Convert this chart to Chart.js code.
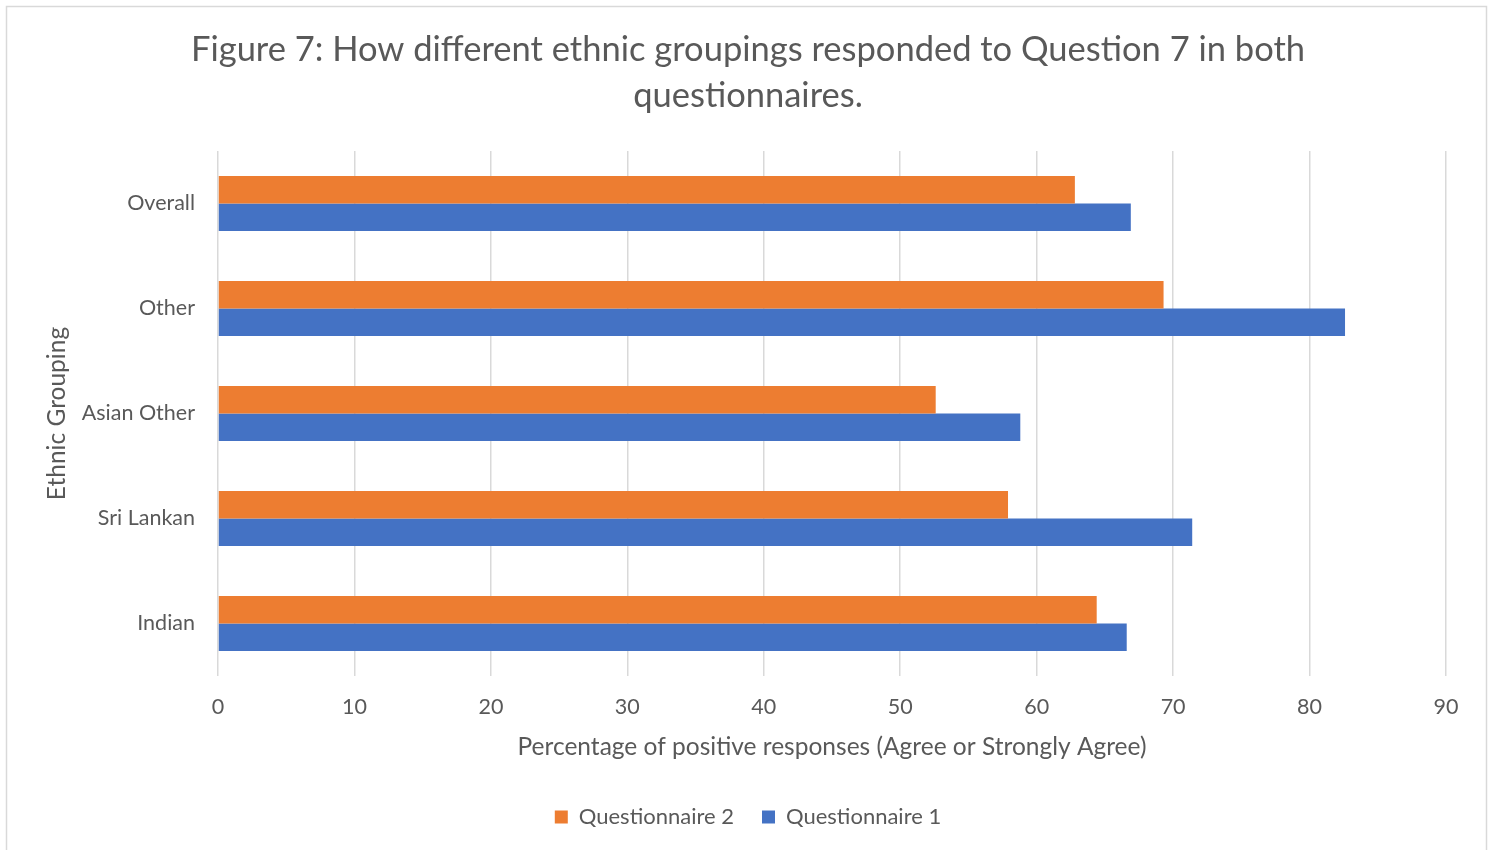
<!DOCTYPE html>
<html>
<head>
<meta charset="utf-8">
<script src="https://cdn.jsdelivr.net/npm/chart.js@4.4.1/dist/chart.umd.min.js"></script>
<style>
  html, body { margin: 0; padding: 0; background: #ffffff; overflow: hidden; }
  #wrap { width: 1496px; height: 850px; position: relative; }
</style>
</head>
<body>
<div id="wrap"><canvas id="chart" width="1496" height="850"></canvas></div>
<script>
// Ethnic groupings, top to bottom
const categories = ['Overall', 'Other', 'Asian Other', 'Sri Lankan', 'Indian'];

// Percentage of positive responses per grouping
const questionnaire2 = [62.8, 69.3, 52.6, 57.9, 64.4];
const questionnaire1 = [66.9, 82.6, 58.8, 71.4, 66.6];

// Value axis ticks
const xTicks = [0, 10, 20, 30, 40, 50, 60, 70, 80, 90];

const titleLines = [
  'Figure 7: How different ethnic groupings responded to Question 7 in both',
  'questionnaires.'
];
const xTitle = 'Percentage of positive responses (Agree or Strongly Agree)';
const yTitle = 'Ethnic Grouping';

const FONT = 'Lato, "Open Sans", sans-serif';
const TEXT = '#595959';
const GRID = '#d9d9d9';

// Chart frame and white background
const framePlugin = {
  id: 'frame',
  beforeDraw(chart) {
    const ctx = chart.ctx;
    ctx.save();
    ctx.fillStyle = '#ffffff';
    ctx.fillRect(0, 0, chart.width, chart.height);
    ctx.strokeStyle = GRID;
    ctx.lineWidth = 1.5;
    ctx.strokeRect(6.5, 6.5, 1480, 860);
    ctx.restore();
  }
};

new Chart(document.getElementById('chart'), {
  type: 'bar',
  data: {
    labels: categories,
    datasets: [
      {
        label: 'Questionnaire 2',
        data: questionnaire2,
        backgroundColor: '#ED7D31',
        borderWidth: 0,
        categoryPercentage: 0.524,
        barPercentage: 1.0
      },
      {
        label: 'Questionnaire 1',
        data: questionnaire1,
        backgroundColor: '#4472C4',
        borderWidth: 0,
        categoryPercentage: 0.524,
        barPercentage: 1.0
      }
    ]
  },
  options: {
    indexAxis: 'y',
    responsive: false,
    animation: false,
    devicePixelRatio: 1,
    layout: { padding: { left: 50, right: 50, top: 0, bottom: 12 } },
    plugins: {
      title: {
        display: true,
        text: titleLines,
        color: TEXT,
        font: { family: FONT, size: 34.5, weight: 'normal', lineHeight: '46px' },
        padding: { top: 27, bottom: 32 }
      },
      legend: {
        position: 'bottom',
        labels: {
          color: TEXT,
          font: { family: FONT, size: 22 },
          boxWidth: 13,
          boxHeight: 13,
          padding: 28
        }
      },
      tooltip: { enabled: false }
    },
    scales: {
      x: {
        min: 0,
        max: 90,
        afterBuildTicks(scale) {
          scale.ticks = xTicks.map(v => ({ value: v }));
        },
        afterFit(scale) { scale.height = 102; },
        grid: { color: GRID, lineWidth: 1.5, drawTicks: false },
        border: { display: false },
        ticks: {
          color: TEXT,
          font: { family: FONT, size: 21.5 },
          padding: 18,
          maxRotation: 0
        },
        title: {
          display: true,
          text: xTitle,
          color: TEXT,
          font: { family: FONT, size: 24.5, lineHeight: 1.2 },
          padding: { top: 0, bottom: 16.3 }
        }
      },
      y: {
        afterFit(scale) { scale.width = 168; },
        grid: { display: false, drawTicks: false },
        border: { display: false },
        ticks: {
          color: TEXT,
          font: { family: FONT, size: 21.5 },
          padding: 23
        },
        title: {
          display: true,
          text: yTitle,
          color: TEXT,
          font: { family: FONT, size: 24.5, lineHeight: '14px' },
          padding: { top: 0, bottom: 0 }
        }
      }
    }
  },
  plugins: [framePlugin]
});
</script>
</body>
</html>
